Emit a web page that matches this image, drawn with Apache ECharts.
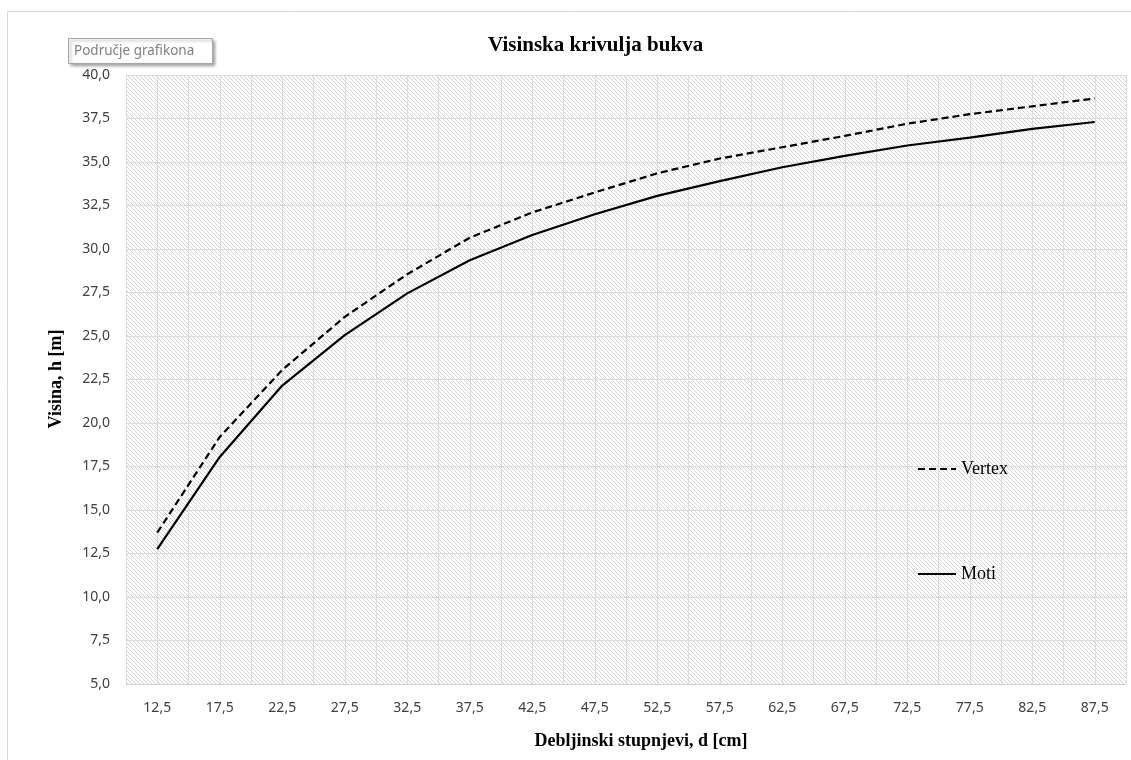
<!DOCTYPE html>
<html>
<head>
<meta charset="utf-8">
<script src="https://cdn.jsdelivr.net/npm/echarts@6/dist/echarts.min.js"></script>
<style>
html,body{margin:0;padding:0;background:#fff;}
#chart{width:1131px;height:760px;}
</style>
</head>
<body>
<div id="chart"></div>
<script>
const categories = [12.5, 17.5, 22.5, 27.5, 32.5, 37.5, 42.5, 47.5, 52.5, 57.5, 62.5, 67.5, 72.5, 77.5, 82.5, 87.5];
const vertex = [13.7, 19.2, 23.05, 26.1, 28.55, 30.65, 32.1, 33.25, 34.35, 35.2, 35.85, 36.5, 37.2, 37.75, 38.2, 38.65];
const moti = [12.75, 18.05, 22.15, 25.05, 27.45, 29.35, 30.8, 32.0, 33.05, 33.9, 34.7, 35.35, 35.95, 36.4, 36.9, 37.3];
const seriesNames = ['Vertex', 'Moti'];
const titleText = 'Visinska krivulja bukva';
const xName = 'Debljinski stupnjevi, d [cm]';
const yName = 'Visina, h [m]';
const tipText = 'Područje grafikona';

const tile = document.createElement('canvas');
tile.width = 4; tile.height = 4;
const tc = tile.getContext('2d');
tc.fillStyle = '#ffffff'; tc.fillRect(0, 0, 4, 4);
tc.fillStyle = '#d4d4d4';
for (let i = 0; i < 4; i++) tc.fillRect(i, i, 1, 1);

const fmt = v => v.toFixed(1).replace('.', ',');
const chart = echarts.init(document.getElementById('chart'), null, {renderer: 'canvas'});
const serif = '"Liberation Serif", "Times New Roman", serif';
const sans = '"Noto Sans", "Open Sans", sans-serif';

chart.setOption({
  backgroundColor: '#ffffff',
  animation: false,
  title: {
    text: titleText,
    left: 483, top: 30,
    textStyle: {fontFamily: serif, fontWeight: 'bold', fontSize: 21, color: '#000'}
  },
  grid: {
    left: 126, right: 5, top: 75, bottom: 76,
    show: true, borderWidth: 0,
    backgroundColor: {image: tile, repeat: 'repeat'}
  },
  legend: {
    show: true,
    orient: 'vertical',
    left: 912, top: 455,
    itemWidth: 38, itemHeight: 20, itemGap: 87,
    itemStyle: {color: 'rgba(0,0,0,0)', borderWidth: 0, borderColor: 'rgba(0,0,0,0)'},
    textStyle: {fontFamily: serif, fontSize: 18, color: '#000'},
    data: seriesNames
  },
  xAxis: {
    type: 'value', min: 10, max: 90, interval: 2.5,
    axisLine: {show: true, lineStyle: {color: '#d0d0d0', width: 1}},
    axisTick: {show: false},
    splitLine: {show: true, lineStyle: {color: '#dcdcdc', width: 1}},
    axisLabel: {
      margin: 17, fontFamily: sans, fontSize: 14, color: '#404040',
      formatter: v => (categories.some(c => Math.abs(c - v) < 1e-6) ? fmt(v) : '')
    }
  },
  yAxis: {
    type: 'value', min: 5, max: 40, interval: 2.5,
    axisLine: {show: false},
    axisTick: {show: false},
    splitLine: {show: true, lineStyle: {color: '#dcdcdc', width: 1}},
    axisLabel: {margin: 16, fontFamily: sans, fontSize: 14, color: '#404040', formatter: v => fmt(v)}
  },
  series: [
    {
      name: seriesNames[0], type: 'line', symbol: 'none', smooth: false,
      data: categories.map((c, i) => [c, vertex[i]]),
      lineStyle: {color: '#000', width: 2.2, type: [7, 4]},
      itemStyle: {color: '#000'}
    },
    {
      name: seriesNames[1], type: 'line', symbol: 'none', smooth: false,
      data: categories.map((c, i) => [c, moti[i]]),
      lineStyle: {color: '#000', width: 2.2, type: 'solid'},
      itemStyle: {color: '#000'}
    }
  ],
  graphic: [
    {type: 'rect', shape: {x: 7.5, y: 11.5, width: 1200, height: 800}, style: {fill: 'none', stroke: '#d9d9d9', lineWidth: 1}, silent: true, z: -10},
    {type: 'text', x: 56, y: 379, rotation: Math.PI / 2,
      style: {text: yName, fontFamily: serif, fontWeight: 'bold', fontSize: 18, fill: '#000', align: 'center', verticalAlign: 'middle'}},
    {type: 'text', x: 641, y: 741,
      style: {text: xName, fontFamily: serif, fontWeight: 'bold', fontSize: 18, fill: '#000', align: 'center', verticalAlign: 'middle'}},
    {type: 'rect', shape: {x: 68.5, y: 38.5, width: 144, height: 25},
      style: {fill: '#ffffff', stroke: '#a6a6a6', lineWidth: 1, shadowBlur: 3, shadowOffsetX: 2, shadowOffsetY: 2, shadowColor: 'rgba(0,0,0,0.35)'}, z: 100},
    {type: 'text', x: 74, y: 51,
      style: {text: tipText, fontFamily: sans, fontSize: 13.5, fill: '#7f7f7f', verticalAlign: 'middle'}, z: 101}
  ]
});
</script>
</body>
</html>
